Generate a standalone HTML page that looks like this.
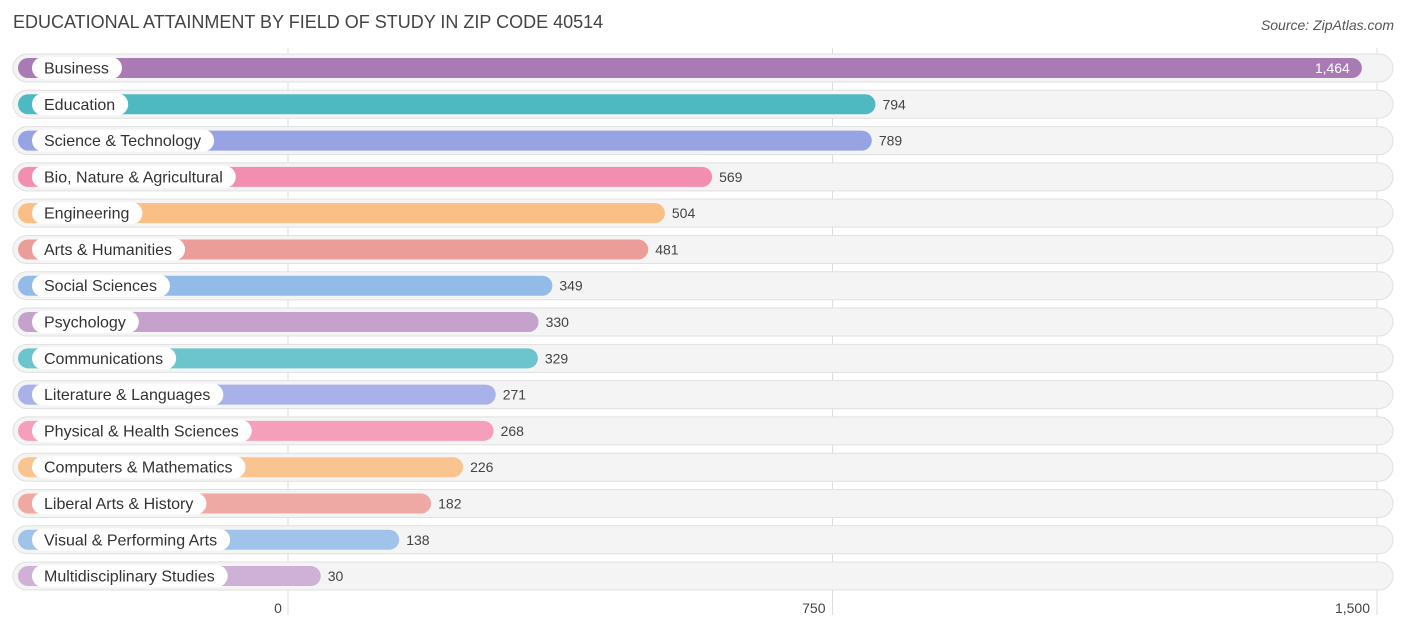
<!DOCTYPE html>
<html><head><meta charset="utf-8"><style>
body{margin:0;background:#fff;font-family:"Liberation Sans",sans-serif;}
svg text{font-family:"Liberation Sans",sans-serif;}
</style></head><body>
<svg id="chart" width="1406" height="631" viewBox="0 0 1406 631" xmlns="http://www.w3.org/2000/svg">
<text x="13" y="28" font-size="18" fill="#444">EDUCATIONAL ATTAINMENT BY FIELD OF STUDY IN ZIP CODE 40514</text>
<text x="1394" y="30" font-size="14" font-style="italic" fill="#555" text-anchor="end">Source: ZipAtlas.com</text>
<g id="grid"></g><g id="rows"></g><g id="ticks"></g>
</svg>
<script>
const categories=["Business","Education","Science & Technology","Bio, Nature & Agricultural","Engineering","Arts & Humanities","Social Sciences","Psychology","Communications","Literature & Languages","Physical & Health Sciences","Computers & Mathematics","Liberal Arts & History","Visual & Performing Arts","Multidisciplinary Studies"];
const values=[1464,794,789,569,504,481,349,330,329,271,268,226,182,138,30];
const valueLabels=["1,464","794","789","569","504","481","349","330","329","271","268","226","182","138","30"];
const colors=["#a87bb5","#4fb9c1","#97a3e3","#f28fb0","#f9bf85","#eb9d99","#92bbe8","#c4a2cb","#6cc5cc","#a8b1e8","#f59fbb","#f9c48f","#efa9a5","#a0c3ea","#cfb0d6"];
const tickValues=[0,750,1500];
const tickLabels=["0","750","1,500"];
const NS="http://www.w3.org/2000/svg";
const x=v=>288+v*(1089/1500);
const yc=i=>68+i*36.29;
function mk(t,a,p){const e=document.createElementNS(NS,t);for(const k in a)e.setAttribute(k,a[k]);p.appendChild(e);return e;}
const grid=document.getElementById('grid'),rows=document.getElementById('rows'),ticks=document.getElementById('ticks');
tickValues.forEach((v,i)=>{
 const l=mk('line',{x1:x(v),x2:x(v),y1:48,y2:615,stroke:'#ddd','stroke-width':1},grid);
 
 
 const t=mk('text',{x:x(v)-7,y:613,'font-size':14,fill:'#444','text-anchor':i==0?'middle':'end'},ticks);
 if(i==0)t.setAttribute('x',x(v)-10);
 t.textContent=tickLabels[i];
 
 
});
categories.forEach((c,i)=>{
 const y=yc(i);
 const g=mk('g',{},rows);
 
 
 mk('rect',{x:13,y:y-14,width:1380,height:28,rx:14,fill:'#f4f4f4',stroke:'#e0e0e0','stroke-width':1},g);
 const end=x(values[i])+11;
 const b=mk('rect',{x:18,y:y-10,width:end-18,height:20,rx:10,fill:colors[i]},g);
 
 
 const pill=mk('rect',{x:32,y:y-11,width:100,height:22,rx:11,fill:'#fff'},g);
 const t=mk('text',{x:44,y:y+5.5,'font-size':16,fill:'#333'},g);
 t.textContent=c;
 
 
 pill.setAttribute('width',t.getComputedTextLength()+25);
 const inside=i==0;
 const v=mk('text',{x:inside?end-12:end+7,y:y+5,'font-size':14,fill:inside?'#fff':'#444','text-anchor':inside?'end':'start'},g);
 v.textContent=valueLabels[i];
 
 
});
</script>
</body></html>
